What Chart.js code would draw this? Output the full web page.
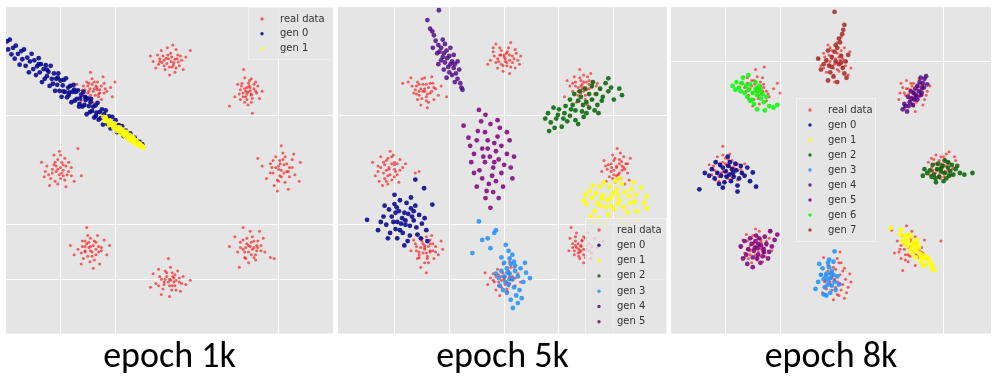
<!DOCTYPE html>
<html>
<head>
    <title>GAN mode collapse</title>
    <script src="https://cdn.jsdelivr.net/npm/chart.js"></script>
    <style>
        body { margin: 0; background: #fff; width: 992px; height: 379px; overflow: hidden; position: relative; }
        .panel { position: absolute; top: 7px; height: 372px; }
    </style>
</head>
<body>
    <div class="panel" style="left:6px;width:327px"><canvas id="chart1"></canvas></div>
    <div class="panel" style="left:338px;width:329px"><canvas id="chart2"></canvas></div>
    <div class="panel" style="left:671px;width:320px"><canvas id="chart3"></canvas></div>

    <script>
        var seriesLabels = ["real data", "gen 0", "gen 1", "gen 2", "gen 3", "gen 4", "gen 5", "gen 6", "gen 7"];
        var seriesColors = ["rgba(255,0,0,0.6)", "rgba(0,0,139,0.85)", "rgba(255,255,0,0.9)", "rgba(0,100,0,0.85)",
            "rgba(30,144,255,0.85)", "rgba(75,0,130,0.8)", "rgba(128,0,128,0.85)", "rgba(0,255,0,0.85)", "rgba(165,42,42,0.85)"];
        var captions = ["epoch 1k", "epoch 5k", "epoch 8k"];

        // ---- epoch 1k ----
        var p1Real = [
            [-0.02,2.05],[0.08,1.98],[-0.12,2.1],[0.15,2.12],[0.05,1.9],[-0.2,1.95],[0.22,2.02],[-0.08,1.85],[0.12,2.22],[-0.3,2.0],[0.02,2.15],[0.3,2.08],[-0.15,2.2],[0.1,1.8],[-0.05,1.96],[0.18,1.92],[-0.25,1.88],[0.06,2.3],[0.38,2.2],[-0.1,2.02],[0.25,1.85],[-0.35,2.1],[0.0,1.75],[0.14,2.05],[-0.18,2.05],
            [0.03,2.0],[-0.06,2.06],[0.1,2.04],[-0.14,1.98],[0.07,1.94],[-0.03,2.12],[0.2,2.1],[-0.22,2.12],[0.0,1.9],[0.16,1.99],[-0.1,1.92],[0.04,2.08],[-0.18,2.0],[0.12,1.88],[-0.04,2.25],
            [-1.38,1.5],[-1.28,1.42],[-1.5,1.55],[-1.2,1.6],[-1.45,1.38],[-1.32,1.62],[-1.6,1.47],[-1.15,1.45],[-1.42,1.68],[-1.25,1.3],[-1.55,1.35],[-1.08,1.52],[-1.35,1.55],[-1.48,1.45],[-1.7,1.58],[-1.22,1.72],[-1.3,1.4],[-1.05,1.35],[-1.62,1.28],[-1.4,1.25],[-1.18,1.5],[-1.52,1.62],[-1.33,1.48],[-1.0,1.62],[-1.45,1.8],
            [-1.4,1.45],[-1.33,1.52],[-1.46,1.5],[-1.25,1.55],[-1.5,1.42],[-1.36,1.38],[-1.42,1.58],[-1.58,1.55],[-1.28,1.48],[-1.45,1.32],[-1.2,1.42],[-1.38,1.62],[-1.55,1.48],[-1.3,1.35],[-1.48,1.6],
            [1.4,1.45],[1.5,1.38],[1.32,1.55],[1.45,1.6],[1.55,1.5],[1.28,1.4],[1.42,1.3],[1.6,1.42],[1.38,1.7],[1.5,1.25],[1.35,1.35],[1.48,1.52],[1.25,1.58],[1.65,1.32],[1.44,1.2],[1.58,1.62],[1.3,1.48],[1.1,1.18],[1.52,1.05],[1.36,1.85],[1.62,1.55],[1.42,1.4],[1.2,1.35],[1.7,1.45],[1.47,1.65],
            [1.44,1.44],[1.38,1.5],[1.5,1.4],[1.35,1.42],[1.46,1.55],[1.52,1.32],[1.4,1.35],[1.55,1.58],[1.33,1.6],[1.48,1.46],[1.58,1.45],[1.3,1.3],[1.42,1.52],[1.5,1.68],[1.38,1.25],
            [-2.05,0.02],[-1.95,0.1],[-2.15,-0.05],[-1.88,-0.08],[-2.1,0.15],[-2.0,-0.15],[-2.25,0.08],[-1.8,0.05],[-2.05,-0.25],[-1.92,0.22],[-2.3,-0.12],[-2.12,0.28],[-1.98,-0.05],[-1.75,-0.2],[-2.2,-0.28],[-1.85,0.15],[-2.08,0.08],[-2.35,0.15],[-1.9,-0.3],[-2.02,0.35],[-1.68,0.4],[-1.62,-0.1],[-2.18,-0.15],[-1.95,0.0],[-2.28,-0.02],
            [-2.0,0.05],[-2.08,-0.02],[-1.95,-0.1],[-2.12,0.1],[-1.9,0.08],[-2.02,-0.08],[-2.15,0.02],[-1.85,-0.02],[-2.05,0.2],[-1.98,0.15],[-2.22,-0.08],[-1.8,-0.1],[-2.1,-0.2],[-1.92,-0.18],[-2.0,0.28],
            [2.0,0.02],[2.1,0.1],[1.9,-0.05],[2.05,-0.12],[2.2,0.05],[1.85,0.12],[2.12,-0.22],[1.95,0.25],[2.3,-0.08],[1.78,-0.15],[2.02,0.18],[2.25,0.2],[1.92,-0.28],[2.15,-0.02],[1.7,0.08],[2.38,-0.2],[2.08,0.32],[1.98,-0.38],[2.4,0.15],[1.62,0.22],[2.05,0.45],[2.18,-0.35],[1.88,0.05],[2.28,0.3],[2.0,-0.2],
            [2.05,0.0],[2.0,0.08],[2.1,-0.05],[1.95,0.05],[2.15,0.12],[2.02,-0.1],[2.2,-0.12],[1.9,0.18],[2.08,0.2],[1.98,-0.18],[2.25,0.05],[1.85,-0.05],[2.12,0.25],[2.03,0.12],[2.18,-0.02],
            [-1.45,-1.4],[-1.35,-1.32],[-1.55,-1.5],[-1.3,-1.5],[-1.6,-1.3],[-1.42,-1.58],[-1.25,-1.42],[-1.5,-1.2],[-1.68,-1.45],[-1.38,-1.65],[-1.2,-1.28],[-1.58,-1.62],[-1.32,-1.2],[-1.75,-1.55],[-1.48,-1.32],[-1.15,-1.55],[-1.4,-1.8],[-1.62,-1.72],[-1.28,-1.72],[-1.52,-1.05],[-1.1,-1.38],[-1.45,-1.48],[-1.82,-1.38],[-1.35,-1.45],[-1.55,-1.4],
            [-1.48,-1.42],[-1.4,-1.38],[-1.55,-1.48],[-1.42,-1.5],[-1.52,-1.35],[-1.35,-1.55],[-1.6,-1.4],[-1.45,-1.25],[-1.3,-1.4],[-1.5,-1.58],[-1.62,-1.52],[-1.38,-1.3],[-1.25,-1.48],[-1.55,-1.3],[-1.46,-1.68],
            [1.45,-1.38],[1.55,-1.3],[1.35,-1.45],[1.6,-1.48],[1.42,-1.25],[1.3,-1.32],[1.68,-1.38],[1.5,-1.55],[1.38,-1.6],[1.72,-1.25],[1.25,-1.5],[1.58,-1.65],[1.48,-1.12],[1.2,-1.22],[1.85,-1.6],[1.65,-1.12],[1.4,-1.42],[1.28,-1.78],[1.52,-1.45],[1.75,-1.5],[1.35,-1.05],[1.6,-1.38],[1.1,-1.4],[1.45,-1.7],[1.92,-1.62],
            [1.48,-1.4],[1.42,-1.35],[1.55,-1.42],[1.5,-1.32],[1.38,-1.5],[1.62,-1.3],[1.45,-1.5],[1.58,-1.55],[1.35,-1.28],[1.52,-1.22],[1.68,-1.48],[1.4,-1.62],[1.3,-1.42],[1.55,-1.6],[1.62,-1.42],
            [0.0,-2.0],[0.1,-1.92],[-0.1,-2.05],[0.05,-2.12],[-0.05,-1.88],[0.18,-2.05],[-0.18,-1.95],[0.12,-2.2],[-0.12,-2.18],[0.25,-1.95],[-0.25,-2.08],[0.02,-1.78],[0.08,-2.05],[-0.08,-2.0],[0.3,-2.1],[-0.3,-1.9],[0.15,-1.85],[-0.15,-2.28],[0.0,-2.32],[0.38,-2.02],[-0.02,-1.62],[0.2,-2.22],[-0.2,-1.82],[0.06,-1.95],[-0.35,-2.15],
            [0.02,-2.02],[-0.05,-1.95],[0.08,-1.98],[-0.1,-2.1],[0.12,-2.02],[0.0,-2.12],[-0.15,-2.0],[0.05,-1.88],[0.18,-1.98],[-0.08,-1.85],[0.1,-2.12],[-0.02,-2.05],[0.22,-2.08],[-0.2,-2.12],[0.04,-2.2]
        ];
        var p1Gen0 = [
            [-2.98,2.37],[-2.96,2.22],[-2.93,2.4],[-2.9,2.13],[-2.87,2.25],[-2.84,2.05],[-2.82,2.29],[-2.78,2.14],[-2.75,1.94],[-2.72,2.19],[-2.7,2.04],[-2.67,2.22],[-2.64,1.92],[-2.61,2.07],[-2.58,1.8],[-2.56,2.0],[-2.53,2.14],[-2.5,1.86],[-2.48,2.02],[-2.45,1.75],
            [-2.43,1.91],[-2.4,2.06],[-2.38,1.8],[-2.36,1.95],[-2.34,1.62],[-2.31,1.86],[-2.29,1.68],[-2.27,1.93],[-2.25,1.73],[-2.22,1.81],[-2.2,1.55],[-2.18,1.92],[-2.16,1.68],[-2.14,1.59],[-2.12,1.78],[-2.1,1.46],[-2.08,1.68],[-2.06,1.57],[-2.04,1.78],[-2.02,1.46],
            [-2.0,1.65],[-1.98,1.35],[-1.96,1.56],[-1.94,1.66],[-1.92,1.44],[-1.9,1.69],[-1.88,1.34],[-1.86,1.52],[-1.84,1.43],[-1.82,1.55],[-1.8,1.25],[-1.78,1.44],[-1.76,1.57],[-1.74,1.28],[-1.72,1.44],[-1.7,1.31],[-1.68,1.47],[-1.66,1.17],[-1.64,1.32],[-1.62,1.39],
            [-1.6,1.17],[-1.58,1.44],[-1.56,1.2],[-1.54,1.29],[-1.52,1.03],[-1.5,1.32],[-1.48,1.18],[-1.46,1.07],[-1.44,1.31],[-1.42,1.09],[-1.4,1.17],[-1.38,0.97],[-1.36,1.19],[-1.34,1.06],[-1.32,1.24],[-1.3,0.93],[-1.28,1.07],[-1.26,0.96],[-1.24,1.12],[-1.22,0.84],
            [-1.2,1.03],[-1.17,1.1],[-1.14,0.85],[-1.11,0.99],[-1.08,0.77],[-1.05,0.98],[-1.02,0.84],[-0.99,0.92],[-0.96,0.7],[-0.93,0.83],[-0.9,0.71],[-0.87,0.81],[-0.84,0.63],[-0.8,0.73],[-0.76,0.61],[-0.72,0.68],[-0.68,0.57],[-0.64,0.6],[-0.6,0.53],[-0.55,0.52],[-0.5,0.48],
            [-2.05,1.7],[-1.95,1.45],[-1.85,1.38],[-1.75,1.48],[-1.65,1.22],[-1.55,1.35],[-1.45,1.25],[-2.25,1.85],[-2.4,1.95],[-1.35,1.0]
        ];
        var p1Gen1 = [
            [-1.21,0.98],[-1.19,0.91],[-1.17,0.97],[-1.15,0.9],[-1.13,0.91],[-1.11,0.83],[-1.09,0.91],[-1.07,0.83],[-1.05,0.85],[-1.03,0.78],[-1.01,0.86],[-0.99,0.79],[-0.97,0.72],[-0.95,0.79],[-0.93,0.73],[-0.91,0.79],[-0.9,0.69],[-0.88,0.72],[-0.87,0.75],[-0.85,0.66],
            [-0.84,0.71],[-0.82,0.62],[-0.81,0.66],[-0.79,0.71],[-0.78,0.62],[-0.76,0.65],[-0.75,0.57],[-0.73,0.65],[-0.72,0.6],[-0.7,0.54],[-0.69,0.61],[-0.67,0.54],[-0.66,0.6],[-0.64,0.49],[-0.63,0.54],[-0.61,0.55],[-0.6,0.48],[-0.58,0.51],[-0.56,0.46],[-0.54,0.49],
            [-0.52,0.45],[-0.5,0.45],[-0.48,0.41],[-0.8,0.65],[-0.74,0.62],[-0.68,0.57],[-0.62,0.51],[-0.86,0.7],[-0.71,0.61],[-0.65,0.51]
        ];

        // ---- epoch 5k ----
        var p2Real = [
            [0.0,2.08],[-0.1,2.0],[0.1,2.12],[-0.05,2.2],[0.15,1.98],[-0.18,2.1],[0.05,1.92],[0.22,2.15],[-0.12,1.88],[0.08,2.25],[-0.25,2.02],[0.18,2.05],[-0.02,1.82],[0.28,1.95],[-0.2,2.25],[0.12,2.35],[-0.08,2.12],[0.02,2.0],[0.3,2.1],[-0.3,1.95],[0.1,1.78],[-0.15,2.32],[0.2,1.88],[0.04,2.15],[-0.05,1.95],
            [0.02,2.05],[-0.06,2.12],[0.1,2.02],[-0.12,2.05],[0.06,2.18],[-0.02,1.92],[0.15,2.1],[-0.15,1.98],[0.05,1.98],[0.2,2.22],[-0.08,2.25],[0.12,1.9],[-0.2,2.18],[0.0,2.12],[0.25,2.02],
            [-1.45,1.5],[-1.35,1.42],[-1.55,1.58],[-1.3,1.6],[-1.6,1.4],[-1.42,1.35],[-1.5,1.68],[-1.25,1.5],[-1.68,1.55],[-1.38,1.25],[-1.2,1.38],[-1.58,1.3],[-1.48,1.45],[-1.75,1.62],[-1.32,1.72],[-1.42,1.58],[-1.62,1.48],[-1.15,1.55],[-1.85,1.6],[-1.52,1.2],[-1.28,1.3],[-1.4,1.15],[-1.05,1.35],[-1.7,1.7],[-1.55,1.45],
            [-1.45,1.45],[-1.38,1.52],[-1.52,1.5],[-1.4,1.4],[-1.55,1.38],[-1.32,1.45],[-1.48,1.58],[-1.6,1.55],[-1.35,1.6],[-1.42,1.28],[-1.65,1.42],[-1.28,1.52],[-1.5,1.32],[-1.58,1.62],[-1.45,1.7],
            [1.4,1.55],[1.5,1.48],[1.3,1.62],[1.55,1.65],[1.25,1.45],[1.45,1.75],[1.6,1.52],[1.35,1.38],[1.48,1.3],[1.2,1.55],[1.65,1.4],[1.38,1.85],[1.58,1.78],[1.42,1.5],[1.1,1.35],[1.7,1.6],[1.28,1.72],[1.52,1.2],[1.32,1.25],[1.62,1.3],[1.45,1.62],[1.15,1.65],[1.75,1.48],[1.4,1.42],[1.55,1.58],
            [1.42,1.58],[1.35,1.52],[1.5,1.62],[1.45,1.45],[1.3,1.55],[1.55,1.5],[1.38,1.7],[1.48,1.38],[1.6,1.62],[1.25,1.6],[1.52,1.72],[1.4,1.65],[1.68,1.55],[1.35,1.45],[1.45,1.52],
            [-2.1,0.02],[-2.0,0.1],[-2.2,-0.05],[-1.95,-0.08],[-2.15,0.18],[-2.05,-0.18],[-2.3,0.08],[-1.9,0.2],[-2.12,-0.25],[-2.25,0.25],[-1.85,0.05],[-2.02,0.28],[-2.35,-0.1],[-2.18,0.1],[-1.98,-0.02],[-2.08,0.35],[-1.92,-0.22],[-2.28,-0.2],[-2.4,0.15],[-1.62,-0.05],[-1.55,-0.02],[-1.8,0.12],[-2.22,-0.28],[-2.0,0.15],[-2.12,-0.1],
            [-2.1,0.05],[-2.05,0.12],[-2.15,0.0],[-2.0,0.02],[-2.2,0.15],[-2.08,-0.08],[-1.95,0.12],[-2.25,0.05],[-2.12,0.22],[-2.0,-0.12],[-2.18,-0.15],[-1.9,0.0],[-2.3,-0.02],[-2.05,0.25],[-2.15,-0.2],
            [2.05,0.08],[2.15,0.0],[1.95,0.12],[2.1,0.2],[2.0,-0.08],[2.22,0.12],[1.88,0.02],[2.08,-0.15],[1.98,0.28],[2.25,-0.05],[1.82,0.18],[2.12,0.32],[2.02,-0.22],[2.3,0.22],[1.92,-0.12],[2.18,0.05],[1.78,-0.02],[2.06,0.4],[2.28,-0.18],[1.96,0.05],[2.14,0.16],[1.86,-0.2],[2.0,0.18],[2.2,-0.25],[2.1,-0.05],
            [2.05,0.05],[2.1,0.12],[2.0,0.0],[2.15,0.08],[1.95,-0.02],[2.08,-0.08],[2.2,0.02],[1.9,0.1],[2.02,0.22],[2.12,-0.15],[1.85,0.08],[2.25,0.12],[1.98,-0.15],[2.18,0.25],[2.05,-0.1],
            [-1.45,-1.42],[-1.35,-1.35],[-1.55,-1.5],[-1.4,-1.58],[-1.5,-1.3],[-1.3,-1.48],[-1.6,-1.4],[-1.42,-1.22],[-1.25,-1.4],[-1.38,-1.7],[-1.58,-1.62],[-1.2,-1.55],[-1.65,-1.28],[-1.48,-1.52],[-1.32,-1.2],[-1.52,-1.78],[-1.15,-1.3],[-1.7,-1.48],[-1.42,-1.88],[-1.28,-1.62],[-1.6,-1.18],[-1.12,-1.45],[-1.45,-1.38],[-1.35,-1.5],[-1.55,-1.6],
            [-1.45,-1.45],[-1.38,-1.4],[-1.52,-1.42],[-1.42,-1.52],[-1.48,-1.35],[-1.35,-1.48],[-1.55,-1.55],[-1.3,-1.35],[-1.6,-1.48],[-1.4,-1.62],[-1.5,-1.25],[-1.25,-1.5],[-1.62,-1.35],[-1.45,-1.7],[-1.35,-1.28],
            [1.4,-1.38],[1.3,-1.3],[1.5,-1.45],[1.35,-1.52],[1.45,-1.22],[1.25,-1.42],[1.55,-1.35],[1.38,-1.62],[1.2,-1.25],[1.6,-1.52],[1.32,-1.15],[1.48,-1.6],[1.28,-1.55],[1.42,-1.3],[1.65,-1.25],[1.18,-1.48],[1.52,-1.15],[1.36,-1.45],[1.7,-1.42],[1.45,-1.7],[1.22,-1.05],[1.58,-1.62],[1.8,-1.3],[1.4,-1.48],[1.3,-1.38],
            [1.4,-1.4],[1.35,-1.35],[1.45,-1.45],[1.32,-1.42],[1.5,-1.38],[1.38,-1.5],[1.42,-1.28],[1.28,-1.48],[1.55,-1.48],[1.36,-1.58],[1.25,-1.35],[1.48,-1.25],[1.3,-1.22],[1.45,-1.55],[1.6,-1.4],
            [0.0,-2.0],[-0.1,-1.92],[0.1,-2.08],[-0.05,-2.15],[0.08,-1.88],[-0.18,-2.05],[0.15,-1.95],[-0.12,-1.82],[0.05,-2.22],[-0.25,-1.98],[0.2,-2.12],[-0.02,-1.72],[0.12,-2.0],[-0.15,-2.2],[0.25,-1.9],[-0.3,-2.1],[0.02,-1.95],[-0.08,-2.3],[0.3,-2.05],[-0.35,-1.88],[0.18,-1.78],[-0.2,-1.9],[0.08,-2.12],[-0.05,-2.02],[0.1,-1.68],
            [0.0,-1.98],[0.05,-2.05],[-0.05,-1.95],[0.1,-1.95],[-0.1,-2.05],[0.02,-2.1],[0.15,-2.02],[-0.15,-1.95],[0.08,-1.85],[-0.02,-1.88],[0.2,-1.98],[-0.2,-2.02],[0.05,-2.18],[-0.1,-2.12],[0.12,-1.78]
        ];
        var p2Gen0 = [
            [-1.86,-0.88],[-1.75,-0.8],[-1.95,-0.95],[-1.8,-1.0],[-1.92,-0.75],[-1.65,-0.92],[-2.05,-0.85],[-1.7,-0.7],[-1.98,-1.08],[-1.6,-1.05],[-2.1,-0.72],[-1.85,-1.15],[-1.78,-0.6],[-2.15,-1.0],[-1.55,-0.82],[-2.0,-0.62],[-1.72,-1.2],[-1.9,-0.55],[-2.2,-0.85],[-1.5,-0.98],[-1.82,-0.78],[-1.68,-0.85],[-2.08,-1.15],[-1.95,-1.25],[-1.62,-0.65],[-2.18,-0.65],[-1.45,-0.88],[-1.88,-0.98],[-1.76,-1.3],[-2.02,-0.95],[-1.58,-1.18],[-1.98,-0.78],[-2.25,-0.95],[-1.7,-0.5],[-1.52,-1.25],[-1.82,-1.38],[-2.12,-1.25],[-1.9,-1.1],[-1.65,-0.75],[-1.42,-1.1],[-2.0,-0.45],[-1.8,-0.92],[-1.72,-1.02],[-1.96,-0.68],[-2.5,-0.91],[-1.62,-0.17],[-1.46,-0.33],[-1.31,-0.63],[-1.4,-1.3],[-2.3,-1.1]
        ];
        var p2Gen1 = [
            [1.95,-0.5],[1.8,-0.45],[2.1,-0.55],[1.7,-0.6],[2.2,-0.4],[1.85,-0.68],[2.05,-0.35],[1.6,-0.5],[2.3,-0.6],[1.75,-0.3],[2.0,-0.72],[2.15,-0.25],[1.55,-0.38],[2.4,-0.45],[1.9,-0.82],[2.25,-0.78],[1.65,-0.75],[2.5,-0.32],[1.82,-0.22],[2.08,-0.62],[1.5,-0.62],[2.35,-0.22],[1.98,-0.42],[2.55,-0.6],[1.72,-0.88],[2.12,-0.9],[1.62,-0.28],[2.42,-0.75],[1.88,-0.55],[2.6,-0.48],[1.48,-0.45],[2.28,-0.48],[1.78,-0.52],[2.02,-0.2],[2.18,-0.68],[1.92,-0.3],[1.68,-0.42],[2.45,-0.92],[1.58,-0.85],[2.32,-0.35],[1.85,-0.98],[2.08,-0.45],[1.75,-0.65],[2.6,-0.7],[2.22,-1.0],[1.95,-0.65],[1.45,-0.55],[2.38,-0.58],[1.62,-0.95],[2.1,-0.15]
        ];
        var p2Gen2 = [
            [1.44,1.2],[1.3,1.1],[1.6,1.3],[1.2,1.0],[1.5,1.05],[1.35,1.28],[1.7,1.2],[1.1,1.05],[1.25,1.2],[1.55,1.4],[0.95,0.95],[1.8,1.35],[1.0,1.12],[1.4,1.35],[1.65,1.1],[0.85,0.88],[1.15,0.9],[1.9,1.45],[0.8,1.05],[1.45,0.98],[1.75,1.5],[1.05,0.8],[1.6,1.55],[0.75,0.95],[2.0,1.3],[1.3,0.92],[1.85,1.6],[0.9,1.15],[1.5,1.25],[2.1,1.5],[1.2,1.3],[1.38,1.45],[0.92,0.78],[1.68,1.4],[1.12,1.18],[2.15,1.38],[1.55,1.15],[0.98,1.02],[1.78,1.28],[1.28,1.4],[1.9,1.69],[1.62,1.62],[1.08,0.95],[1.42,1.08],[1.95,1.52],[0.82,0.72],[1.35,0.85],[1.72,1.05],[1.22,1.12],[1.48,1.5]
        ];
        var p2Gen3 = [
            [0.1,-1.9],[0.05,-1.8],[0.15,-2.0],[0.0,-1.95],[0.2,-1.85],[0.08,-2.1],[-0.05,-1.85],[0.12,-1.72],[0.25,-1.95],[0.02,-2.05],[0.18,-2.15],[-0.1,-1.98],[0.1,-1.62],[0.3,-1.8],[0.05,-2.25],[0.22,-2.3],[-0.08,-2.12],[0.15,-1.55],[0.35,-2.05],[0.0,-1.7],[0.28,-2.2],[0.12,-2.38],[-0.15,-1.9],[0.4,-1.88],[0.16,-2.53],[0.25,-2.44],[0.47,-1.98],[0.08,-1.48],[0.03,-1.37],[-0.18,-1.15],[-0.15,-1.1],[-0.25,-1.43],[-0.4,-1.28],[-0.58,-1.52],[-0.46,-0.94],[-0.3,-1.25],[0.18,-1.68],[-0.02,-2.2],[0.32,-2.35],[0.1,-2.0],[0.2,-1.75],[-0.05,-1.6],[0.38,-1.7],[0.06,-1.88]
        ];
        var p2Gen4 = [
            [-1.04,2.06],[-1.1,2.15],[-0.98,1.95],[-1.15,2.25],[-1.0,2.1],[-1.08,1.98],[-0.92,1.88],[-1.2,2.3],[-1.12,2.08],[-0.95,2.0],[-1.05,2.2],[-0.88,1.78],[-1.18,2.18],[-1.02,1.9],[-1.25,2.38],[-0.9,1.95],[-1.1,1.85],[-0.85,1.68],[-1.28,2.48],[-0.98,2.25],[-1.15,2.02],[-0.8,1.6],[-1.31,2.55],[-0.95,1.75],[-1.22,2.15],[-0.78,1.52],[-1.4,2.76],[-1.19,2.94],[-1.08,2.32],[-0.9,1.62],[-0.82,1.85],[-1.3,2.25],[-0.76,1.48],[-1.0,1.8],[-1.12,2.4],[-0.92,2.12],[-1.05,1.7],[-0.85,2.0],[-1.2,1.95],[-1.35,2.6]
        ];
        var p2Gen5 = [
            [-0.26,0.25],[-0.15,0.35],[-0.35,0.15],[-0.2,0.05],[-0.4,0.4],[-0.1,0.2],[-0.3,0.55],[-0.05,0.45],[-0.45,0.0],[-0.22,-0.1],[-0.55,0.3],[0.0,0.1],[-0.35,0.7],[-0.12,0.62],[-0.5,0.55],[-0.28,-0.25],[0.05,0.3],[-0.6,0.15],[-0.15,-0.2],[-0.4,-0.15],[-0.08,0.78],[-0.25,0.85],[0.12,0.05],[-0.48,0.72],[-0.32,-0.38],[-0.05,-0.05],[-0.18,0.5],[-0.62,0.45],[0.1,0.55],[-0.38,0.25],[-0.2,-0.4],[-0.46,1.11],[-0.34,1.02],[-0.74,0.82],[-0.25,-0.69],[-0.34,-0.51],[-0.1,-0.51],[0.18,0.25],[-0.55,-0.05],[-0.12,0.92],[-0.3,0.4],[-0.02,-0.3],[-0.42,0.9],[0.15,-0.15],[-0.65,0.6],[-0.18,0.15],[-0.5,-0.3],[0.05,0.7]
        ];

        // ---- epoch 8k ----
        var p3Real = [
            [0.02,2.05],[-0.1,1.95],[0.12,2.12],[-0.05,2.2],[0.15,1.9],[-0.18,2.08],[0.08,1.82],[0.22,2.0],[-0.12,2.3],[0.05,2.35],[-0.25,1.92],[0.28,2.18],[-0.02,1.75],[0.18,2.25],[-0.2,2.15],[0.1,2.02],[-0.08,2.0],[0.3,1.88],[-0.3,2.05],[0.0,1.62],[0.12,2.45],[-0.15,1.8],[0.25,1.75],[0.05,1.98],[-0.05,2.1],
            [0.02,2.0],[-0.05,2.05],[0.08,2.08],[-0.1,2.12],[0.1,1.95],[-0.02,1.88],[0.15,2.05],[-0.15,2.0],[0.05,2.15],[0.0,1.95],[0.2,1.92],[-0.08,2.25],[0.12,2.2],[-0.2,1.88],[0.05,1.85],
            [-1.44,1.48],[-1.35,1.4],[-1.52,1.55],[-1.3,1.58],[-1.58,1.38],[-1.4,1.32],[-1.48,1.65],[-1.25,1.45],[-1.65,1.52],[-1.38,1.22],[-1.2,1.35],[-1.55,1.28],[-1.42,1.52],[-1.72,1.6],[-1.32,1.7],[-1.29,1.9],[-1.05,1.6],[-1.12,1.5],[-1.6,1.7],[-1.5,1.18],[-1.25,1.28],[-1.0,1.42],[-1.45,1.85],[-1.62,1.45],[-1.35,1.55],
            [-1.44,1.45],[-1.38,1.5],[-1.5,1.42],[-1.4,1.38],[-1.55,1.5],[-1.32,1.45],[-1.46,1.58],[-1.6,1.6],[-1.3,1.52],[-1.48,1.3],[-1.22,1.4],[-1.52,1.65],[-1.36,1.62],[-1.42,1.72],[-1.58,1.32],
            [1.46,1.42],[1.35,1.5],[1.55,1.35],[1.3,1.38],[1.6,1.48],[1.4,1.6],[1.5,1.25],[1.25,1.52],[1.65,1.3],[1.38,1.28],[1.2,1.42],[1.58,1.58],[1.45,1.18],[1.7,1.45],[1.32,1.65],[1.52,1.5],[1.18,1.3],[1.62,1.2],[1.28,1.15],[1.75,1.55],[1.42,1.35],[1.55,1.68],[1.22,1.6],[1.48,1.08],[1.68,1.38],
            [1.45,1.42],[1.4,1.48],[1.5,1.38],[1.36,1.4],[1.55,1.45],[1.42,1.55],[1.48,1.3],[1.32,1.5],[1.6,1.38],[1.45,1.6],[1.38,1.32],[1.52,1.55],[1.28,1.42],[1.62,1.55],[1.42,1.22],
            [-1.99,-0.02],[-1.9,0.05],[-2.1,0.08],[-1.85,-0.1],[-2.05,0.15],[-1.95,-0.15],[-2.2,0.0],[-1.8,0.1],[-2.12,-0.12],[-1.72,0.02],[-2.0,0.22],[-1.88,0.18],[-2.25,-0.08],[-2.02,-0.2],[-1.78,-0.18],[-2.15,0.25],[-1.65,0.12],[-1.92,0.3],[-2.3,0.1],[-2.08,-0.05],[-2.05,0.44],[-1.82,0.02],[-1.98,0.1],[-2.18,-0.18],[-1.7,-0.05],
            [-1.98,0.0],[-1.92,0.08],[-2.05,-0.02],[-1.9,-0.05],[-2.1,0.12],[-2.0,-0.1],[-1.85,0.05],[-2.15,-0.05],[-1.95,0.2],[-2.05,0.28],[-1.78,0.12],[-2.12,-0.2],[-1.88,-0.15],[-2.22,0.08],[-2.0,0.12],
            [1.95,0.04],[1.88,0.1],[2.02,-0.02],[1.85,-0.05],[2.08,0.12],[1.92,0.18],[2.12,-0.08],[1.78,0.05],[2.0,0.25],[1.9,-0.12],[2.18,0.05],[1.82,0.2],[2.05,0.3],[1.75,-0.08],[2.22,0.18],[1.96,0.12],[2.1,0.34],[1.98,-0.05],[1.72,0.15],[2.15,-0.1],[1.86,0.28],[2.04,0.08],[1.94,-0.15],[2.2,0.25],[1.8,0.0],
            [1.95,0.05],[1.9,0.02],[2.0,0.1],[1.85,0.12],[2.05,-0.05],[1.92,-0.08],[2.1,0.15],[1.8,-0.02],[2.02,0.2],[1.95,0.25],[2.15,0.02],[1.88,0.0],[2.08,0.0],[1.78,0.22],[2.0,-0.12],
            [-1.44,-1.4],[-1.35,-1.32],[-1.55,-1.48],[-1.3,-1.5],[-1.6,-1.3],[-1.42,-1.58],[-1.5,-1.2],[-1.25,-1.38],[-1.65,-1.52],[-1.38,-1.12],[-1.2,-1.25],[-1.58,-1.62],[-1.48,-1.35],[-1.72,-1.42],[-1.32,-1.68],[-1.45,-1.08],[-1.15,-1.48],[-1.62,-1.18],[-1.28,-1.58],[-1.52,-1.7],[-1.4,-1.25],[-1.18,-1.1],[-1.68,-1.28],[-1.35,-1.45],[-1.55,-1.55],
            [-1.44,-1.42],[-1.38,-1.38],[-1.5,-1.45],[-1.4,-1.5],[-1.48,-1.32],[-1.32,-1.42],[-1.55,-1.38],[-1.45,-1.55],[-1.35,-1.28],[-1.6,-1.45],[-1.28,-1.52],[-1.42,-1.65],[-1.52,-1.25],[-1.25,-1.3],[-1.65,-1.6],
            [1.37,-1.43],[1.28,-1.35],[1.45,-1.5],[1.3,-1.55],[1.5,-1.32],[1.2,-1.45],[1.4,-1.25],[1.55,-1.6],[1.15,-1.3],[1.35,-1.68],[1.6,-1.42],[1.25,-1.2],[1.48,-1.75],[1.1,-1.52],[1.65,-1.28],[1.42,-1.12],[1.22,-1.62],[1.58,-1.5],[1.05,-1.1],[1.95,-1.3],[1.25,-1.84],[1.7,-1.62],[1.32,-1.02],[1.5,-1.4],[1.38,-1.58],
            [1.37,-1.42],[1.32,-1.38],[1.42,-1.48],[1.28,-1.45],[1.45,-1.35],[1.35,-1.55],[1.5,-1.55],[1.22,-1.38],[1.4,-1.3],[1.55,-1.45],[1.3,-1.65],[1.48,-1.22],[1.18,-1.5],[1.62,-1.52],[1.35,-1.18],
            [0.0,-2.0],[-0.1,-1.9],[0.1,-2.08],[-0.05,-2.2],[0.15,-1.85],[-0.18,-2.05],[0.08,-2.3],[0.2,-2.0],[-0.12,-1.75],[0.05,-1.62],[-0.22,-2.25],[0.25,-2.15],[-0.02,-2.38],[0.12,-1.7],[-0.15,-2.12],[0.28,-1.9],[-0.25,-1.92],[0.02,-1.82],[0.18,-2.35],[-0.08,-2.1],[0.3,-2.05],[0.1,-1.5],[-0.2,-1.6],[0.22,-2.25],[-0.05,-1.98],
            [0.0,-2.02],[-0.05,-1.95],[0.06,-2.05],[-0.08,-2.05],[0.1,-1.92],[0.02,-2.15],[-0.12,-1.85],[0.12,-2.2],[-0.02,-1.78],[0.15,-2.1],[-0.15,-2.18],[0.05,-2.28],[0.18,-1.8],[-0.18,-2.02],[0.08,-1.7]
        ];
        var p3Gen0 = [
            [-1.93,-0.08],[-2.0,-0.02],[-1.85,-0.12],[-2.08,-0.1],[-1.8,0.0],[-1.95,0.08],[-2.15,-0.05],[-1.75,-0.15],[-1.9,-0.2],[-2.05,0.05],[-1.7,-0.05],[-2.2,-0.15],[-1.88,0.02],[-2.1,0.1],[-1.65,-0.1],[-2.02,-0.22],[-1.82,0.12],[-2.25,0.02],[-1.78,-0.28],[-1.98,-0.12],[-2.3,-0.1],[-1.6,0.05],[-2.12,-0.25],[-1.92,0.15],[-2.48,-0.35],[-1.44,-0.3],[-1.5,-0.04],[-1.96,0.25],[-1.78,-0.39],[-2.38,-0.05],[-1.55,-0.2],[-2.18,0.15],[-1.86,-0.05],[-2.05,-0.32],[-1.72,0.08]
        ];
        var p3Gen1 = [
            [1.42,-1.38],[1.35,-1.3],[1.5,-1.45],[1.3,-1.25],[1.45,-1.32],[1.38,-1.45],[1.55,-1.52],[1.28,-1.2],[1.48,-1.6],[1.6,-1.55],[1.33,-1.38],[1.4,-1.22],[1.52,-1.35],[1.25,-1.3],[1.58,-1.68],[1.65,-1.62],[1.7,-1.72],[1.62,-1.75],[1.75,-1.68],[1.78,-1.8],[1.83,-1.83],[1.68,-1.58],[1.45,-1.48],[1.36,-1.18],[1.22,-1.09],[1.03,-1.06],[1.55,-1.42],[1.5,-1.28],[1.72,-1.62],[1.58,-1.6],[1.3,-1.35],[1.42,-1.52],[1.8,-1.75],[1.2,-1.18],[1.47,-1.4]
        ];
        var p3Gen2 = [
            [1.95,-0.02],[1.88,0.02],[2.02,-0.05],[1.82,-0.08],[2.08,0.05],[1.92,-0.12],[2.12,-0.02],[1.75,0.0],[1.98,0.08],[1.85,-0.15],[2.18,-0.08],[1.7,-0.05],[2.05,-0.15],[1.9,0.12],[2.22,0.02],[1.65,0.02],[2.0,-0.2],[1.8,0.1],[2.15,0.1],[1.96,0.04],[2.3,-0.05],[2.38,-0.08],[2.53,-0.05],[2.08,0.15],[1.62,-0.1],[1.86,-0.22],[2.1,-0.1],[1.78,-0.12],[2.25,0.08],[2.02,0.18]
        ];
        var p3Gen3 = [
            [-0.08,-1.98],[-0.15,-1.9],[0.0,-2.05],[-0.12,-2.1],[-0.05,-1.85],[-0.2,-2.0],[-0.02,-1.92],[-0.1,-1.78],[-0.18,-2.15],[0.02,-2.2],[-0.25,-1.92],[-0.08,-2.25],[-0.12,-1.7],[0.05,-1.95],[-0.3,-2.05],[-0.15,-2.3],[-0.05,-2.12],[-0.22,-1.8],[0.0,-1.49],[-0.1,-1.64],[-0.28,-1.72],[-0.02,-1.68],[-0.35,-2.18],[-0.12,-2.02],[-0.2,-2.28],[0.08,-2.1],[-0.06,-1.9],[-0.16,-1.95]
        ];
        var p3Gen4 = [
            [1.49,1.39],[1.42,1.32],[1.55,1.45],[1.38,1.25],[1.6,1.52],[1.45,1.42],[1.52,1.3],[1.35,1.35],[1.62,1.6],[1.48,1.5],[1.3,1.18],[1.58,1.38],[1.4,1.45],[1.65,1.68],[1.52,1.55],[1.25,1.12],[1.68,1.73],[1.44,1.2],[1.7,1.58],[1.33,1.08],[1.56,1.62],[1.46,1.3],[1.6,1.42],[1.36,1.18],[1.64,1.52],[1.5,1.35],[1.28,1.22],[1.58,1.7]
        ];
        var p3Gen5 = [
            [-1.41,-1.43],[-1.35,-1.38],[-1.48,-1.48],[-1.3,-1.45],[-1.52,-1.35],[-1.4,-1.55],[-1.45,-1.3],[-1.25,-1.35],[-1.58,-1.45],[-1.38,-1.25],[-1.2,-1.5],[-1.5,-1.6],[-1.32,-1.58],[-1.62,-1.55],[-1.44,-1.2],[-1.15,-1.4],[-1.28,-1.22],[-1.55,-1.25],[-1.68,-1.62],[-1.36,-1.7],[-1.1,-1.28],[-1.6,-1.72],[-1.22,-1.62],[-1.46,-1.42],[-1.05,-1.18],[-1.72,-1.4],[-1.4,-1.35],[-1.3,-1.5],[-1.5,-1.78],[-1.18,-1.12],[-1.65,-1.3],[-1.42,-1.62]
        ];
        var p3Gen6 = [
            [-1.5,1.42],[-1.58,1.48],[-1.42,1.38],[-1.62,1.55],[-1.45,1.5],[-1.35,1.32],[-1.7,1.6],[-1.52,1.3],[-1.4,1.45],[-1.65,1.42],[-1.3,1.25],[-1.55,1.58],[-1.75,1.52],[-1.48,1.22],[-1.25,1.35],[-1.38,1.55],[-1.8,1.62],[-1.6,1.35],[-1.2,1.18],[-1.45,1.62],[-1.82,1.48],[-1.32,1.4],[-1.68,1.7],[-1.12,1.15],[-1.55,1.28],[-1.42,1.12],[-1.05,1.2],[-1.72,1.45],[-1.28,1.1],[-1.58,1.75],[-1.36,1.48],[-1.87,1.55]
        ];
        var p3Gen7 = [
            [0.02,2.0],[-0.05,2.08],[0.08,1.95],[-0.1,1.92],[0.12,2.1],[0.0,2.18],[-0.15,2.02],[0.15,1.88],[0.05,2.25],[-0.08,1.8],[0.2,2.0],[-0.2,1.95],[0.1,2.35],[-0.02,1.72],[0.18,1.78],[-0.25,1.85],[0.08,2.42],[0.14,2.5],[0.18,2.67],[0.0,2.91],[-0.12,2.2],[0.25,2.12],[-0.3,2.05],[0.05,1.62],[-0.12,1.65],[0.22,1.7],[0.02,2.3],[0.12,1.98],[-0.05,1.9],[0.16,2.58]
        ];

        // gray panel background like matplotlib's ggplot style
        var panelBg = {
            id: "panelBg",
            beforeDraw(chart) {
                var a = chart.chartArea, ctx = chart.ctx;
                ctx.save();
                ctx.fillStyle = "#e5e5e5";
                ctx.fillRect(a.left, a.top, a.width, a.height);
                ctx.restore();
            }
        };

        // legend drawn inside the plot area
        var innerLegend = {
            id: "innerLegend",
            afterDatasetsDraw(chart, args, opts) {
                var a = chart.chartArea, ctx = chart.ctx;
                var sets = chart.data.datasets;
                var x0 = a.left + opts.left, y0 = a.top + opts.top;
                var h = sets.length * opts.rowH + 9;
                ctx.save();
                ctx.fillStyle = "rgba(229,229,229,0.8)";
                ctx.fillRect(x0, y0, opts.width, h);
                ctx.strokeStyle = "rgba(242,242,242,0.9)";
                ctx.lineWidth = 1;
                ctx.strokeRect(x0 + 0.5, y0 + 0.5, opts.width - 1, h - 1);
                ctx.font = "10px 'DejaVu Sans'";
                ctx.textBaseline = "middle";
                sets.forEach((ds, i) => {
                    var cy = y0 + 12 + i * opts.rowH;
                    ctx.fillStyle = ds.backgroundColor;
                    ctx.beginPath();
                    ctx.arc(x0 + 14, cy, 1.7, 0, Math.PI * 2);
                    ctx.fill();
                    ctx.fillStyle = "#333";
                    ctx.fillText(ds.label, x0 + 32, cy);
                });
                ctx.restore();
            }
        };

        function makePanel(id, caption, series, xMax, xMin, gridX, gridY, legendPos) {
            var datasets = series.map((pts, i) => ({
                label: seriesLabels[i],
                data: pts.map(p => ({ x: p[0], y: p[1] })),
                backgroundColor: seriesColors[i],
                borderWidth: 0,
                pointRadius: i === 0 ? 1.5 : 2.4,
                order: series.length - i,
                clip: 0
            }));

            new Chart(document.getElementById(id), {
                type: "scatter",
                data: { datasets: datasets },
                plugins: [panelBg, innerLegend],
                options: {
                    responsive: true,
                    maintainAspectRatio: false,
                    animation: false,
                    events: [],
                    layout: { padding: 0, autoPadding: false },
                    plugins: {
                        legend: { display: false },
                        tooltip: { enabled: false },
                        innerLegend: legendPos,
                        title: {
                            display: true,
                            position: "bottom",
                            text: caption,
                            color: "#000",
                            font: { family: "Carlito, 'Open Sans', sans-serif", size: 36, weight: "normal", lineHeight: 1.15 },
                            padding: { top: 4, bottom: 0 }
                        }
                    },
                    scales: {
                        x: {
                            min: xMin, max: xMax,
                            afterBuildTicks: axis => { axis.ticks = gridX.map(v => ({ value: v })); },
                            ticks: { display: false },
                            border: { display: false },
                            grid: { color: "#ffffff", lineWidth: 1, drawTicks: false }
                        },
                        y: {
                            min: -3, max: 3,
                            afterBuildTicks: axis => { axis.ticks = gridY.map(v => ({ value: v })); },
                            ticks: { display: false },
                            border: { display: false },
                            grid: { color: "#ffffff", lineWidth: 1, drawTicks: false }
                        }
                    }
                }
            });
        }

        makePanel("chart1", captions[0], [p1Real, p1Gen0, p1Gen1], 3, -3,
            [-2, -1, 2], [1, -1, -2], { left: 242, top: 0, width: 86, rowH: 14.7 });
        makePanel("chart2", captions[1], [p2Real, p2Gen0, p2Gen1, p2Gen2, p2Gen3, p2Gen4, p2Gen5], 2.97, -3.03,
            [-2, -1, 0, 1, 2], [1, -1, -2], { left: 247, top: 211, width: 82, rowH: 15.3 });
        makePanel("chart3", captions[2], [p3Real, p3Gen0, p3Gen1, p3Gen2, p3Gen3, p3Gen4, p3Gen5, p3Gen6, p3Gen7], 2.87, -3,
            [-2, -1, 2], [2], { left: 125, top: 91, width: 80, rowH: 15 });
    </script>
</body>
</html>
